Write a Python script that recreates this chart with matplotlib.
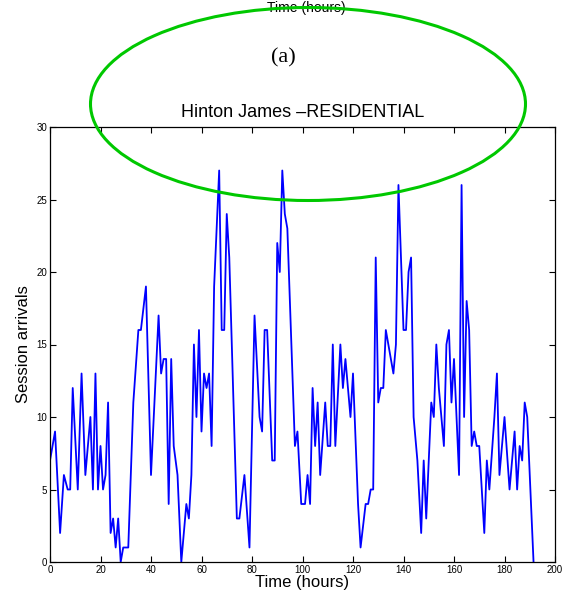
import matplotlib
matplotlib.use('Agg')
import matplotlib.pyplot as plt
from matplotlib.patches import Ellipse

plt.rcParams['font.family'] = ['Liberation Sans', 'DejaVu Sans']

# hours and session arrivals
hours = [0, 2, 4, 5.5, 7, 8, 9, 11, 12.5, 14, 16, 17, 18, 19, 20, 21, 22, 23,
         24, 25, 26, 27, 28, 29, 31, 33, 35, 36, 38, 40, 43, 44, 45, 46, 47,
         48, 49, 50.5, 52, 54, 55, 56, 57, 58, 59, 60, 61, 62, 63, 64, 65,
         67, 68, 69, 70, 71, 74, 75, 77, 79, 81, 83, 84, 85, 86, 88, 89, 90,
         91, 92, 93, 94, 97, 98, 99.5, 101, 102, 103, 104, 105, 106, 107,
         109, 110, 111, 112, 113, 115, 116, 117, 119, 120, 122, 123, 125,
         126, 127, 128, 129, 130, 131, 132, 133, 136, 137, 138, 140, 141,
         142, 143, 144, 145.5, 147, 148, 149, 151, 152, 153, 154, 156, 157,
         158, 159, 160, 162, 163, 164, 165, 166, 167, 168, 169, 170, 172,
         173, 174, 176, 177, 178, 180, 182, 184, 185, 186, 187, 188, 189,
         191.5]
arrivals = [7, 9, 2, 6, 5, 5, 12, 5, 13, 6, 10, 5, 13, 5, 8, 5, 6, 11,
            2, 3, 1, 3, 0, 1, 1, 11, 16, 16, 19, 6, 17, 13, 14, 14, 4,
            14, 8, 6, 0, 4, 3, 6, 15, 10, 16, 9, 13, 12, 13, 8, 19,
            27, 16, 16, 24, 21, 3, 3, 6, 1, 17, 10, 9, 16, 16, 7, 7, 22,
            20, 27, 24, 23, 8, 9, 4, 4, 6, 4, 12, 8, 11, 6,
            11, 8, 8, 15, 8, 15, 12, 14, 10, 13, 4, 1, 4,
            4, 5, 5, 21, 11, 12, 12, 16, 13, 15, 26, 16, 16,
            20, 21, 10, 7, 2, 7, 3, 11, 10, 15, 12, 8, 15,
            16, 11, 14, 6, 26, 10, 18, 16, 8, 9, 8, 8, 2,
            7, 5, 10, 13, 6, 10, 5, 9, 5, 8, 7, 11, 10,
            0]

x_ticks = [0, 20, 40, 60, 80, 100, 120, 140, 160, 180, 200]
y_ticks = [0, 5, 10, 15, 20, 25, 30]

fig = plt.figure(figsize=(5.65, 5.98), dpi=100)
ax = fig.add_axes([50/565, 36/598, 505/565, 435/598])

ax.plot(hours, arrivals, color='#0000ff', lw=1.3)
ax.set_xlim(0, 200)
ax.set_ylim(0, 30)
ax.set_xticks(x_ticks)
ax.set_yticks(y_ticks)
ax.tick_params(direction='in', top=True, right=True, labelsize=7, length=4.5, pad=2)
for s in ax.spines.values():
    s.set_linewidth(0.9)

ax.set_xlabel('Time (hours)', fontsize=12, labelpad=0)
ax.set_ylabel('Session arrivals', fontsize=12, labelpad=4)
ax.set_title('Hinton James \u2013RESIDENTIAL', fontsize=13, pad=7)

# bits of the panel above / caption
fig.text(306/565, 1 - 8/598, 'Time (hours)', fontsize=10, ha='center', va='center')
fig.text(283/565, 1 - 58/598, '(a)', fontsize=16, ha='center', va='center',
         family=['Liberation Serif', 'DejaVu Serif'])

# green marker ellipse
ell = Ellipse((308/565, 1 - 104/598), 435/565, 193/598, transform=fig.transFigure,
              fill=False, edgecolor='#00c800', lw=2.2, zorder=10)
fig.patches.append(ell)

fig.savefig('out.png', dpi=100)
